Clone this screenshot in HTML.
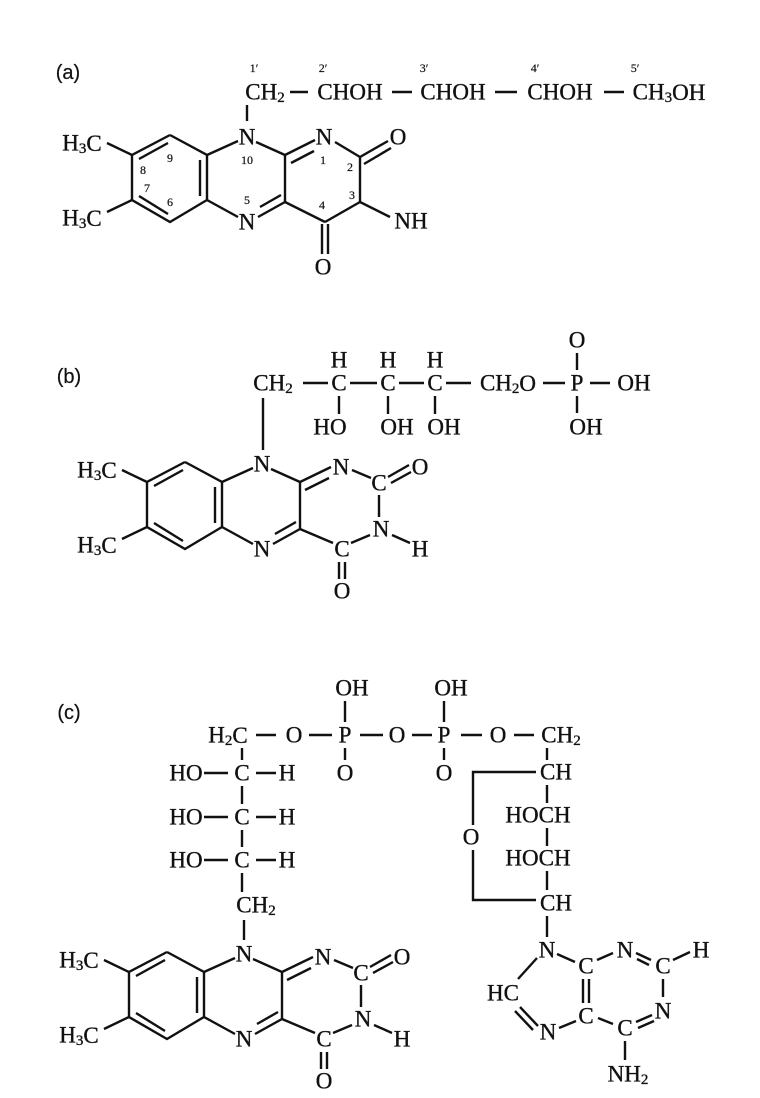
<!DOCTYPE html>
<html><head><meta charset="utf-8"><style>
html,body{margin:0;padding:0;background:#fff}
svg{display:block}
text{font-family:"Liberation Serif",serif;font-size:23px;fill:#111;stroke:#111;stroke-width:0.35;text-anchor:middle;dominant-baseline:central}
.s{font-size:12px;stroke-width:0.2}
.lab{font-family:"Liberation Sans",sans-serif;font-size:20px;stroke-width:0.2}
line,polyline{stroke:#111;stroke-width:2.4;fill:none}
</style></head><body>
<svg width="760" height="1098" viewBox="0 0 760 1098" xmlns="http://www.w3.org/2000/svg">
<defs>
<g id="benz">
<polyline points="170,135 132,155 132,200 170,222 207,200 207,155 170,135"/>
<line x1="168" y1="143" x2="139" y2="159"/>
<line x1="200" y1="160" x2="200" y2="196"/>
<line x1="139" y1="196" x2="168" y2="214"/>
<line x1="107" y1="143" x2="132" y2="155"/>
<line x1="107" y1="212" x2="132" y2="200"/>
<text x="82" y="143">H<tspan font-size="15" dy="6">3</tspan><tspan dy="-6">C</tspan></text>
<text x="82" y="218">H<tspan font-size="15" dy="6">3</tspan><tspan dy="-6">C</tspan></text>
<line x1="207" y1="155" x2="238" y2="141"/>
<line x1="256" y1="142" x2="285" y2="155"/>
<line x1="285" y1="155" x2="285" y2="202"/>
<line x1="285" y1="202" x2="258" y2="217"/>
<line x1="281" y1="195" x2="260" y2="207"/>
<line x1="238" y1="217" x2="207" y2="200"/>
<text x="247" y="137">N</text>
<text x="247" y="222">N</text>
</g>
<g id="core">
<use href="#benz"/>
<line x1="285" y1="155" x2="316" y2="140"/>
<line x1="290" y1="163" x2="314" y2="151"/>
<text x="326" y="140">N</text>
<line x1="337" y1="143" x2="356" y2="151"/>
<text x="364" y="156">C</text>
<line x1="373" y1="150" x2="394" y2="138"/>
<line x1="376" y1="156" x2="396" y2="145"/>
<text x="405" y="140">O</text>
<line x1="364" y1="168" x2="364" y2="190"/>
<text x="366" y="202">N</text>
<line x1="377" y1="208" x2="395" y2="216"/>
<text x="405" y="222">H</text>
<line x1="355" y1="208" x2="336" y2="216"/>
<text x="327" y="222">C</text>
<line x1="318" y1="216" x2="285" y2="202"/>
<line x1="324" y1="235" x2="324" y2="252"/>
<line x1="330" y1="235" x2="330" y2="252"/>
<text x="327" y="264">O</text>
</g>
</defs>

<!-- (a) -->
<text class="lab" x="68" y="73">(a)</text>
<use href="#benz"/>
<line x1="285" y1="155" x2="315" y2="140"/>
<line x1="291" y1="163" x2="314" y2="151"/>
<text x="324" y="137">N</text>
<line x1="335" y1="142" x2="360" y2="157"/>
<line x1="360" y1="157" x2="360" y2="202"/>
<line x1="360" y1="157" x2="388" y2="141"/>
<line x1="364" y1="164" x2="391" y2="148"/>
<text x="398" y="137">O</text>
<line x1="360" y1="202" x2="325" y2="222"/>
<line x1="325" y1="222" x2="285" y2="202"/>
<line x1="322" y1="224" x2="322" y2="254"/>
<line x1="328" y1="224" x2="328" y2="254"/>
<text x="323" y="267">O</text>
<line x1="360" y1="202" x2="390" y2="217"/>
<text x="411" y="221">NH</text>
<line x1="247" y1="105" x2="247" y2="121"/>
<text class="s" x="170" y="158">9</text>
<text class="s" x="143" y="170">8</text>
<text class="s" x="147" y="188">7</text>
<text class="s" x="170" y="202">6</text>
<text class="s" x="247" y="160">10</text>
<text class="s" x="247" y="200">5</text>
<text class="s" x="323" y="160">1</text>
<text class="s" x="350" y="167">2</text>
<text class="s" x="352" y="195">3</text>
<text class="s" x="322" y="205">4</text>
<text x="265" y="92">CH<tspan font-size="15" dy="6">2</tspan></text>
<line x1="290" y1="92" x2="308" y2="92"/>
<text x="350" y="92">CHOH</text>
<line x1="392" y1="92" x2="412" y2="92"/>
<text x="453" y="92">CHOH</text>
<line x1="495" y1="92" x2="517" y2="92"/>
<text x="560" y="92">CHOH</text>
<line x1="604" y1="92" x2="624" y2="92"/>
<text x="669" y="92">CH<tspan font-size="15" dy="6">3</tspan><tspan dy="-6">OH</tspan></text>
<text class="s" x="254" y="68">1′</text>
<text class="s" x="323" y="68">2′</text>
<text class="s" x="424" y="68">3′</text>
<text class="s" x="535" y="68">4′</text>
<text class="s" x="635" y="68">5′</text>

<!-- (b) -->
<text class="lab" x="69" y="377">(b)</text>
<g transform="translate(15,327)"><use href="#core"/></g>
<line x1="263" y1="398" x2="263" y2="450"/>
<text x="273" y="383">CH<tspan font-size="15" dy="6">2</tspan></text>
<line x1="303" y1="383" x2="328" y2="383"/>
<text x="339" y="383">C</text>
<text x="339" y="360">H</text>
<line x1="339" y1="396" x2="339" y2="414"/>
<text x="330" y="427">HO</text>
<line x1="350" y1="383" x2="377" y2="383"/>
<text x="388" y="383">C</text>
<text x="388" y="360">H</text>
<line x1="388" y1="396" x2="388" y2="414"/>
<text x="397" y="427">OH</text>
<line x1="399" y1="383" x2="424" y2="383"/>
<text x="435" y="383">C</text>
<text x="435" y="360">H</text>
<line x1="435" y1="396" x2="435" y2="414"/>
<text x="444" y="427">OH</text>
<line x1="446" y1="383" x2="471" y2="383"/>
<text x="508" y="383">CH<tspan font-size="15" dy="6">2</tspan><tspan dy="-6">O</tspan></text>
<line x1="543" y1="383" x2="565" y2="383"/>
<text x="577" y="383">P</text>
<text x="577" y="340">O</text>
<line x1="577" y1="353" x2="577" y2="370"/>
<line x1="577" y1="396" x2="577" y2="413"/>
<text x="586" y="427">OH</text>
<line x1="590" y1="383" x2="610" y2="383"/>
<text x="634" y="383">OH</text>

<!-- (c) -->
<text class="lab" x="69" y="713">(c)</text>
<g transform="translate(-3,817)"><use href="#core"/></g>
<text x="228" y="735">H<tspan font-size="15" dy="6">2</tspan><tspan dy="-6">C</tspan></text>
<line x1="256" y1="735" x2="276" y2="735"/>
<text x="294" y="735">O</text>
<line x1="309" y1="735" x2="332" y2="735"/>
<text x="345" y="735">P</text>
<text x="352" y="688">OH</text>
<line x1="345" y1="701" x2="345" y2="722"/>
<line x1="345" y1="748" x2="345" y2="760"/>
<text x="345" y="773">O</text>
<line x1="360" y1="735" x2="383" y2="735"/>
<text x="397" y="735">O</text>
<line x1="412" y1="735" x2="432" y2="735"/>
<text x="444" y="735">P</text>
<text x="451" y="688">OH</text>
<line x1="444" y1="701" x2="444" y2="722"/>
<line x1="444" y1="748" x2="444" y2="760"/>
<text x="444" y="773">O</text>
<line x1="461" y1="735" x2="482" y2="735"/>
<text x="498" y="735">O</text>
<line x1="514" y1="735" x2="534" y2="735"/>
<text x="561" y="735">CH<tspan font-size="15" dy="6">2</tspan></text>
<!-- ribitol -->
<line x1="242" y1="748" x2="242" y2="760"/>
<text x="186" y="773">HO</text><line x1="204" y1="773" x2="228" y2="773"/><text x="242" y="773">C</text><line x1="256" y1="773" x2="276" y2="773"/><text x="287" y="773">H</text>
<line x1="242" y1="786" x2="242" y2="804"/>
<text x="186" y="817">HO</text><line x1="204" y1="817" x2="228" y2="817"/><text x="242" y="817">C</text><line x1="256" y1="817" x2="276" y2="817"/><text x="287" y="817">H</text>
<line x1="242" y1="830" x2="242" y2="847"/>
<text x="186" y="860">HO</text><line x1="204" y1="860" x2="228" y2="860"/><text x="242" y="860">C</text><line x1="256" y1="860" x2="276" y2="860"/><text x="287" y="860">H</text>
<line x1="242" y1="873" x2="242" y2="892"/>
<text x="256" y="905">CH<tspan font-size="15" dy="6">2</tspan></text>
<line x1="244" y1="920" x2="244" y2="940"/>
<!-- ribose -->
<line x1="547" y1="748" x2="547" y2="760"/>
<text x="556" y="772">CH</text>
<polyline points="536,772 473,772 473,825"/>
<text x="471" y="837">O</text>
<polyline points="473,850 473,900 536,900"/>
<line x1="547" y1="785" x2="547" y2="803"/>
<text x="538" y="815">HOCH</text>
<line x1="547" y1="828" x2="547" y2="846"/>
<text x="538" y="858">HOCH</text>
<line x1="547" y1="871" x2="547" y2="890"/>
<text x="556" y="903">CH</text>
<line x1="547" y1="916" x2="547" y2="937"/>
<!-- adenine -->
<text x="547" y="950">N</text>
<line x1="557" y1="954" x2="575" y2="962"/>
<text x="586" y="966">C</text>
<line x1="597" y1="960" x2="613" y2="953"/>
<text x="625" y="950">N</text>
<line x1="636" y1="953" x2="651" y2="960"/>
<line x1="637" y1="959" x2="649" y2="965"/>
<text x="663" y="966">C</text>
<line x1="673" y1="960" x2="690" y2="952"/>
<text x="701" y="950">H</text>
<line x1="663" y1="979" x2="663" y2="997"/>
<text x="663" y="1011">N</text>
<line x1="652" y1="1015" x2="636" y2="1022"/>
<line x1="654" y1="1021" x2="638" y2="1028"/>
<text x="625" y="1028">C</text>
<line x1="625" y1="1041" x2="625" y2="1060"/>
<text x="628" y="1074">NH<tspan font-size="15" dy="6">2</tspan></text>
<line x1="613" y1="1024" x2="598" y2="1018"/>
<text x="586" y="1016">C</text>
<line x1="583" y1="979" x2="583" y2="1003"/>
<line x1="589" y1="979" x2="589" y2="1003"/>
<line x1="576" y1="1021" x2="559" y2="1028"/>
<text x="548" y="1032">N</text>
<line x1="538" y1="1026" x2="520" y2="1007"/>
<line x1="533" y1="1030" x2="515" y2="1011"/>
<text x="503" y="993">HC</text>
<line x1="518" y1="979" x2="537" y2="958"/>
</svg>
</body></html>
